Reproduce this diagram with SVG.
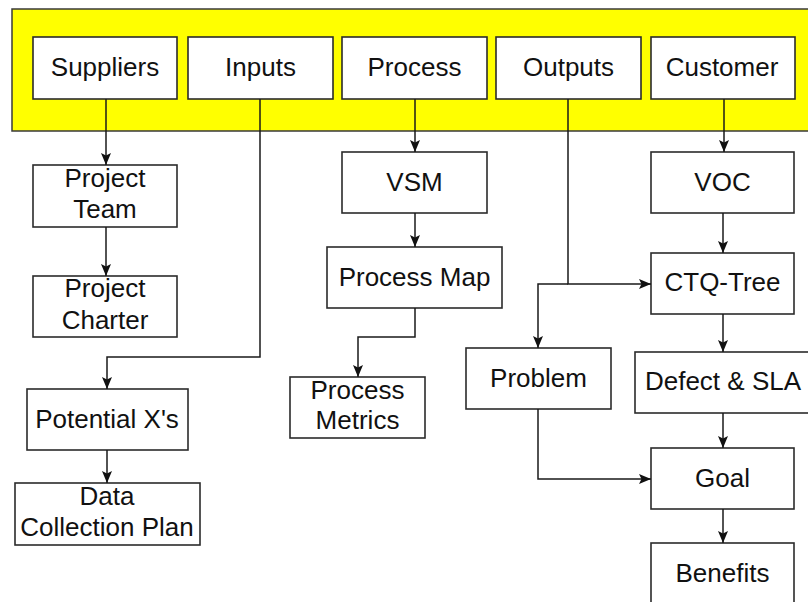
<svg xmlns="http://www.w3.org/2000/svg" width="808" height="602" viewBox="0 0 808 602">
  <style>
    .box { fill: #ffffff; stroke: #2b2b2b; stroke-width: 1.6; }
    .lbl { font-family: "Liberation Sans", Arial, sans-serif; font-size: 26px; fill: #111111; text-anchor: middle; }
    .wire { fill: none; stroke: #1a1a1a; stroke-width: 1.5; }
  </style>
  <defs>
    <marker id="arrow" viewBox="0 0 12 10" refX="12" refY="5" markerWidth="12" markerHeight="10" markerUnits="userSpaceOnUse" orient="auto">
      <path d="M0,0 L12,5 L0,10 L2.5,5 Z" fill="#111111"/>
    </marker>
  </defs>

  <rect width="808" height="602" fill="#ffffff"/>

  <!-- SIPOC header band -->
  <g id="band">
    <rect x="12" y="9" width="800" height="122" fill="#ffff00" stroke="#3a3a3a" stroke-width="1.5"/>
  </g>

  <g id="suppliers"><rect class="box" x="33" y="37" width="144" height="62"/><text class="lbl" x="105" y="76">Suppliers</text></g>
  <g id="inputs"><rect class="box" x="188" y="37" width="145" height="62"/><text class="lbl" x="260.5" y="76">Inputs</text></g>
  <g id="process"><rect class="box" x="342" y="37" width="145" height="62"/><text class="lbl" x="414.5" y="76">Process</text></g>
  <g id="outputs"><rect class="box" x="496" y="37" width="145" height="62"/><text class="lbl" x="568.5" y="76">Outputs</text></g>
  <g id="customer"><rect class="box" x="651" y="37" width="144" height="62"/><text class="lbl" x="722" y="76">Customer</text></g>

  <!-- Suppliers / Inputs column -->
  <g id="project-team"><rect class="box" x="33" y="165" width="144" height="62"/><text class="lbl" x="105" y="187">Project</text><text class="lbl" x="105" y="218">Team</text></g>
  <g id="project-charter"><rect class="box" x="33" y="276" width="144" height="61"/><text class="lbl" x="105" y="297">Project</text><text class="lbl" x="105" y="329">Charter</text></g>
  <g id="potential-xs"><rect class="box" x="27" y="389" width="161" height="61"/><text class="lbl" x="107" y="428">Potential X's</text></g>
  <g id="data-collection-plan"><rect class="box" x="15" y="483" width="185" height="62"/><text class="lbl" x="107" y="505">Data</text><text class="lbl" x="107" y="536">Collection Plan</text></g>

  <!-- Process column -->
  <g id="vsm"><rect class="box" x="342" y="152" width="145" height="61"/><text class="lbl" x="414.5" y="191">VSM</text></g>
  <g id="process-map"><rect class="box" x="327" y="247" width="175" height="61"/><text class="lbl" x="414.5" y="286">Process Map</text></g>
  <g id="process-metrics"><rect class="box" x="290" y="377" width="135" height="61"/><text class="lbl" x="357.5" y="399">Process</text><text class="lbl" x="357.5" y="429">Metrics</text></g>

  <!-- Outputs / Customer column -->
  <g id="voc"><rect class="box" x="651" y="152" width="143" height="61"/><text class="lbl" x="722.5" y="191">VOC</text></g>
  <g id="ctq-tree"><rect class="box" x="651" y="253" width="143" height="61"/><text class="lbl" x="722.5" y="291">CTQ-Tree</text></g>
  <g id="problem"><rect class="box" x="466" y="348" width="145" height="61"/><text class="lbl" x="538.5" y="387">Problem</text></g>
  <g id="defect-sla"><rect class="box" x="635" y="352" width="175" height="61"/><text class="lbl" x="723" y="390">Defect &amp; SLA</text></g>
  <g id="goal"><rect class="box" x="651" y="448" width="143" height="61"/><text class="lbl" x="722.5" y="487">Goal</text></g>
  <g id="benefits"><rect class="box" x="651" y="543" width="143" height="70"/><text class="lbl" x="722.5" y="582">Benefits</text></g>

  <g id="connectors">
    <path class="wire" d="M106,99 V165" marker-end="url(#arrow)"/>
    <path class="wire" d="M106,227 V276" marker-end="url(#arrow)"/>
    <path class="wire" d="M260,99 V357 H107 V389" marker-end="url(#arrow)"/>
    <path class="wire" d="M107,450 V483" marker-end="url(#arrow)"/>
    <path class="wire" d="M415,99 V152" marker-end="url(#arrow)"/>
    <path class="wire" d="M415,213 V247" marker-end="url(#arrow)"/>
    <path class="wire" d="M415,308 V337 H358 V377" marker-end="url(#arrow)"/>
    <path class="wire" d="M568,99 V284 H651" marker-end="url(#arrow)"/>
    <path class="wire" d="M568,284 H538 V348" marker-end="url(#arrow)"/>
    <path class="wire" d="M724,99 V152" marker-end="url(#arrow)"/>
    <path class="wire" d="M723,213 V253" marker-end="url(#arrow)"/>
    <path class="wire" d="M723,314 V352" marker-end="url(#arrow)"/>
    <path class="wire" d="M723,413 V448" marker-end="url(#arrow)"/>
    <path class="wire" d="M538,409 V479 H651" marker-end="url(#arrow)"/>
    <path class="wire" d="M723,509 V543" marker-end="url(#arrow)"/>
  </g>
</svg>
